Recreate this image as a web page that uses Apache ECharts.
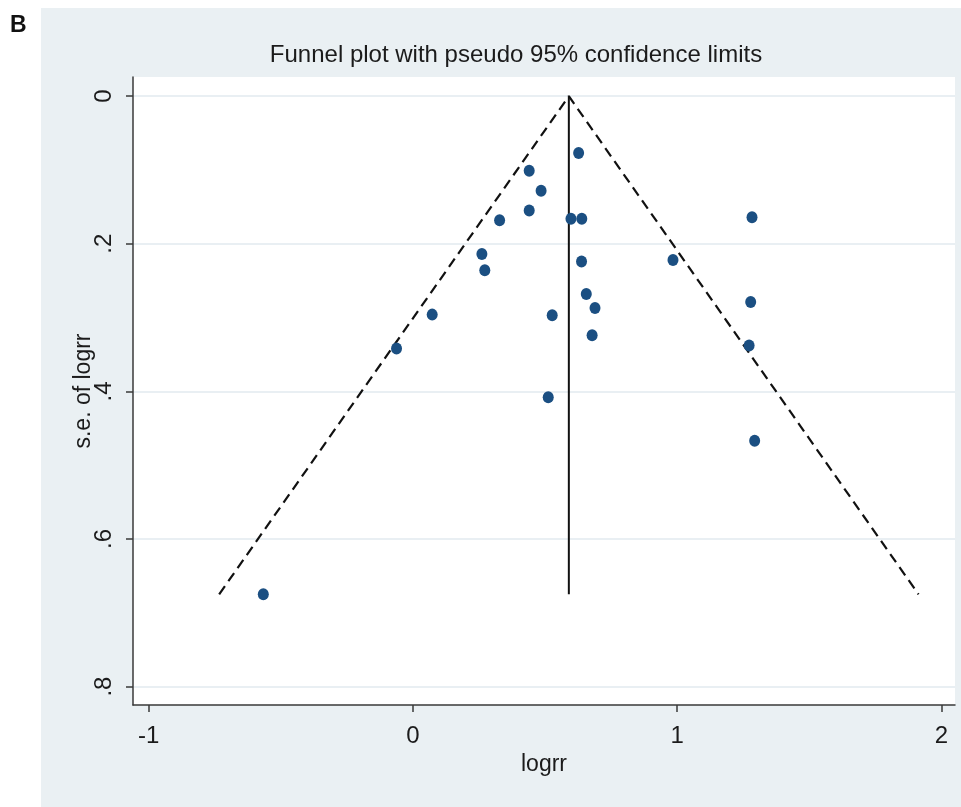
<!DOCTYPE html>
<html>
<head>
<meta charset="utf-8">
<script src="https://cdn.jsdelivr.net/npm/echarts@6/dist/echarts.min.js"></script>
<style>
  html, body { margin: 0; padding: 0; background: #ffffff; }
  #chart { width: 961px; height: 807px; }
</style>
</head>
<body>
<div id="chart"></div>
<script>
// Study estimates: log risk ratio and its standard error
var logrr = [0.627, 0.440, 0.485, 0.440, 0.328, 0.598, 0.639, 0.261, 0.272, 0.638,
             0.073, -0.062, 0.527, 0.512, 0.656, 0.689, 0.678, 1.283, 0.984, 1.278,
             1.272, 1.293, -0.566];
var seLogrr = [0.077, 0.101, 0.128, 0.155, 0.168, 0.166, 0.166, 0.214, 0.236, 0.224,
               0.296, 0.342, 0.297, 0.408, 0.268, 0.287, 0.324, 0.164, 0.222, 0.279,
               0.338, 0.467, 0.675];

// Pooled (fixed-effect) estimate and the largest standard error
var pooled = 0.590;
var seMax = 0.675;

var xTicks = [-1, 0, 1, 2];
var xTickLabels = ['-1', '0', '1', '2'];
var yTicks = [0, 0.2, 0.4, 0.6, 0.8];
var yTickLabels = ['0', '.2', '.4', '.6', '.8'];

var points = logrr.map(function (v, i) { return [v, seLogrr[i]]; });
// Pseudo 95% confidence limits: pooled ± 1.96·se
var limits = [
  [pooled - 1.96 * seMax, seMax],
  [pooled, 0],
  [pooled + 1.96 * seMax, seMax]
];
var pooledLine = [[pooled, 0], [pooled, seMax]];

var FONT = '"Liberation Sans", Arial, sans-serif';
var TXT = '#1b1b1b';
var AX = '#3a3a3a';

var chart = echarts.init(document.getElementById('chart'), null, { renderer: 'canvas' });
chart.setOption({
  backgroundColor: '#ffffff',
  animation: false,
  graphic: [
    { type: 'rect', z: -10, silent: true,
      shape: { x: 41, y: 8, width: 920, height: 799 },
      style: { fill: '#eaf0f3' } },
    { type: 'text', x: 10, y: 14, z: 10,
      style: { text: 'B', font: 'bold 23px ' + FONT, fill: '#111111' } },
    { type: 'text', x: 516, y: 43, z: 10,
      style: { text: 'Funnel plot with pseudo 95% confidence limits',
               font: '24px ' + FONT, fill: TXT, align: 'center' } }
  ],
  grid: {
    left: 133, right: 6, top: 77, bottom: 102,
    show: true, backgroundColor: '#ffffff', borderWidth: 0
  },
  xAxis: {
    type: 'value',
    min: -1.059, max: 2.051,
    name: 'logrr', nameLocation: 'middle', nameGap: 48, nameMoveOverlap: false,
    nameTextStyle: { fontFamily: FONT, fontSize: 23, color: TXT },
    axisLine: { show: true, onZero: false, lineStyle: { color: AX, width: 1.5 } },
    axisTick: { show: true, length: 7, customValues: xTicks, lineStyle: { color: AX, width: 1.5 } },
    axisLabel: {
      customValues: xTicks, margin: 19, fontFamily: FONT, fontSize: 24, color: TXT,
      formatter: function (v) { return xTickLabels[xTicks.indexOf(v)]; }
    },
    splitLine: { show: false }
  },
  yAxis: {
    type: 'value',
    inverse: true,
    min: -0.026, max: 0.825,
    name: 's.e. of logrr', nameLocation: 'middle', nameGap: 38, nameRotate: 90,
    nameMoveOverlap: false,
    nameTextStyle: { fontFamily: FONT, fontSize: 23, color: TXT },
    axisLine: { show: true, onZero: false, lineStyle: { color: AX, width: 1.5 } },
    axisTick: { show: true, length: 7, customValues: yTicks, lineStyle: { color: AX, width: 1.5 } },
    axisLabel: {
      customValues: yTicks, margin: 17, rotate: 90, fontFamily: FONT, fontSize: 24, color: TXT,
      formatter: function (v) { return yTickLabels[yTicks.indexOf(v)]; }
    },
    splitLine: { show: true, lineStyle: { color: '#e2eaef', width: 1.5 } }
  },
  series: [
    {
      type: 'line', data: limits, symbol: 'none', silent: true, z: 3,
      lineStyle: { color: '#111111', width: 2.2, type: [10, 6] }
    },
    {
      type: 'line', data: pooledLine, symbol: 'none', silent: true, z: 3,
      lineStyle: { color: '#111111', width: 2 }
    },
    {
      type: 'scatter', data: points, symbol: 'circle', symbolSize: [11, 12], z: 4,
      itemStyle: { color: '#1b4f82', opacity: 1 }
    }
  ]
});
</script>
</body>
</html>
